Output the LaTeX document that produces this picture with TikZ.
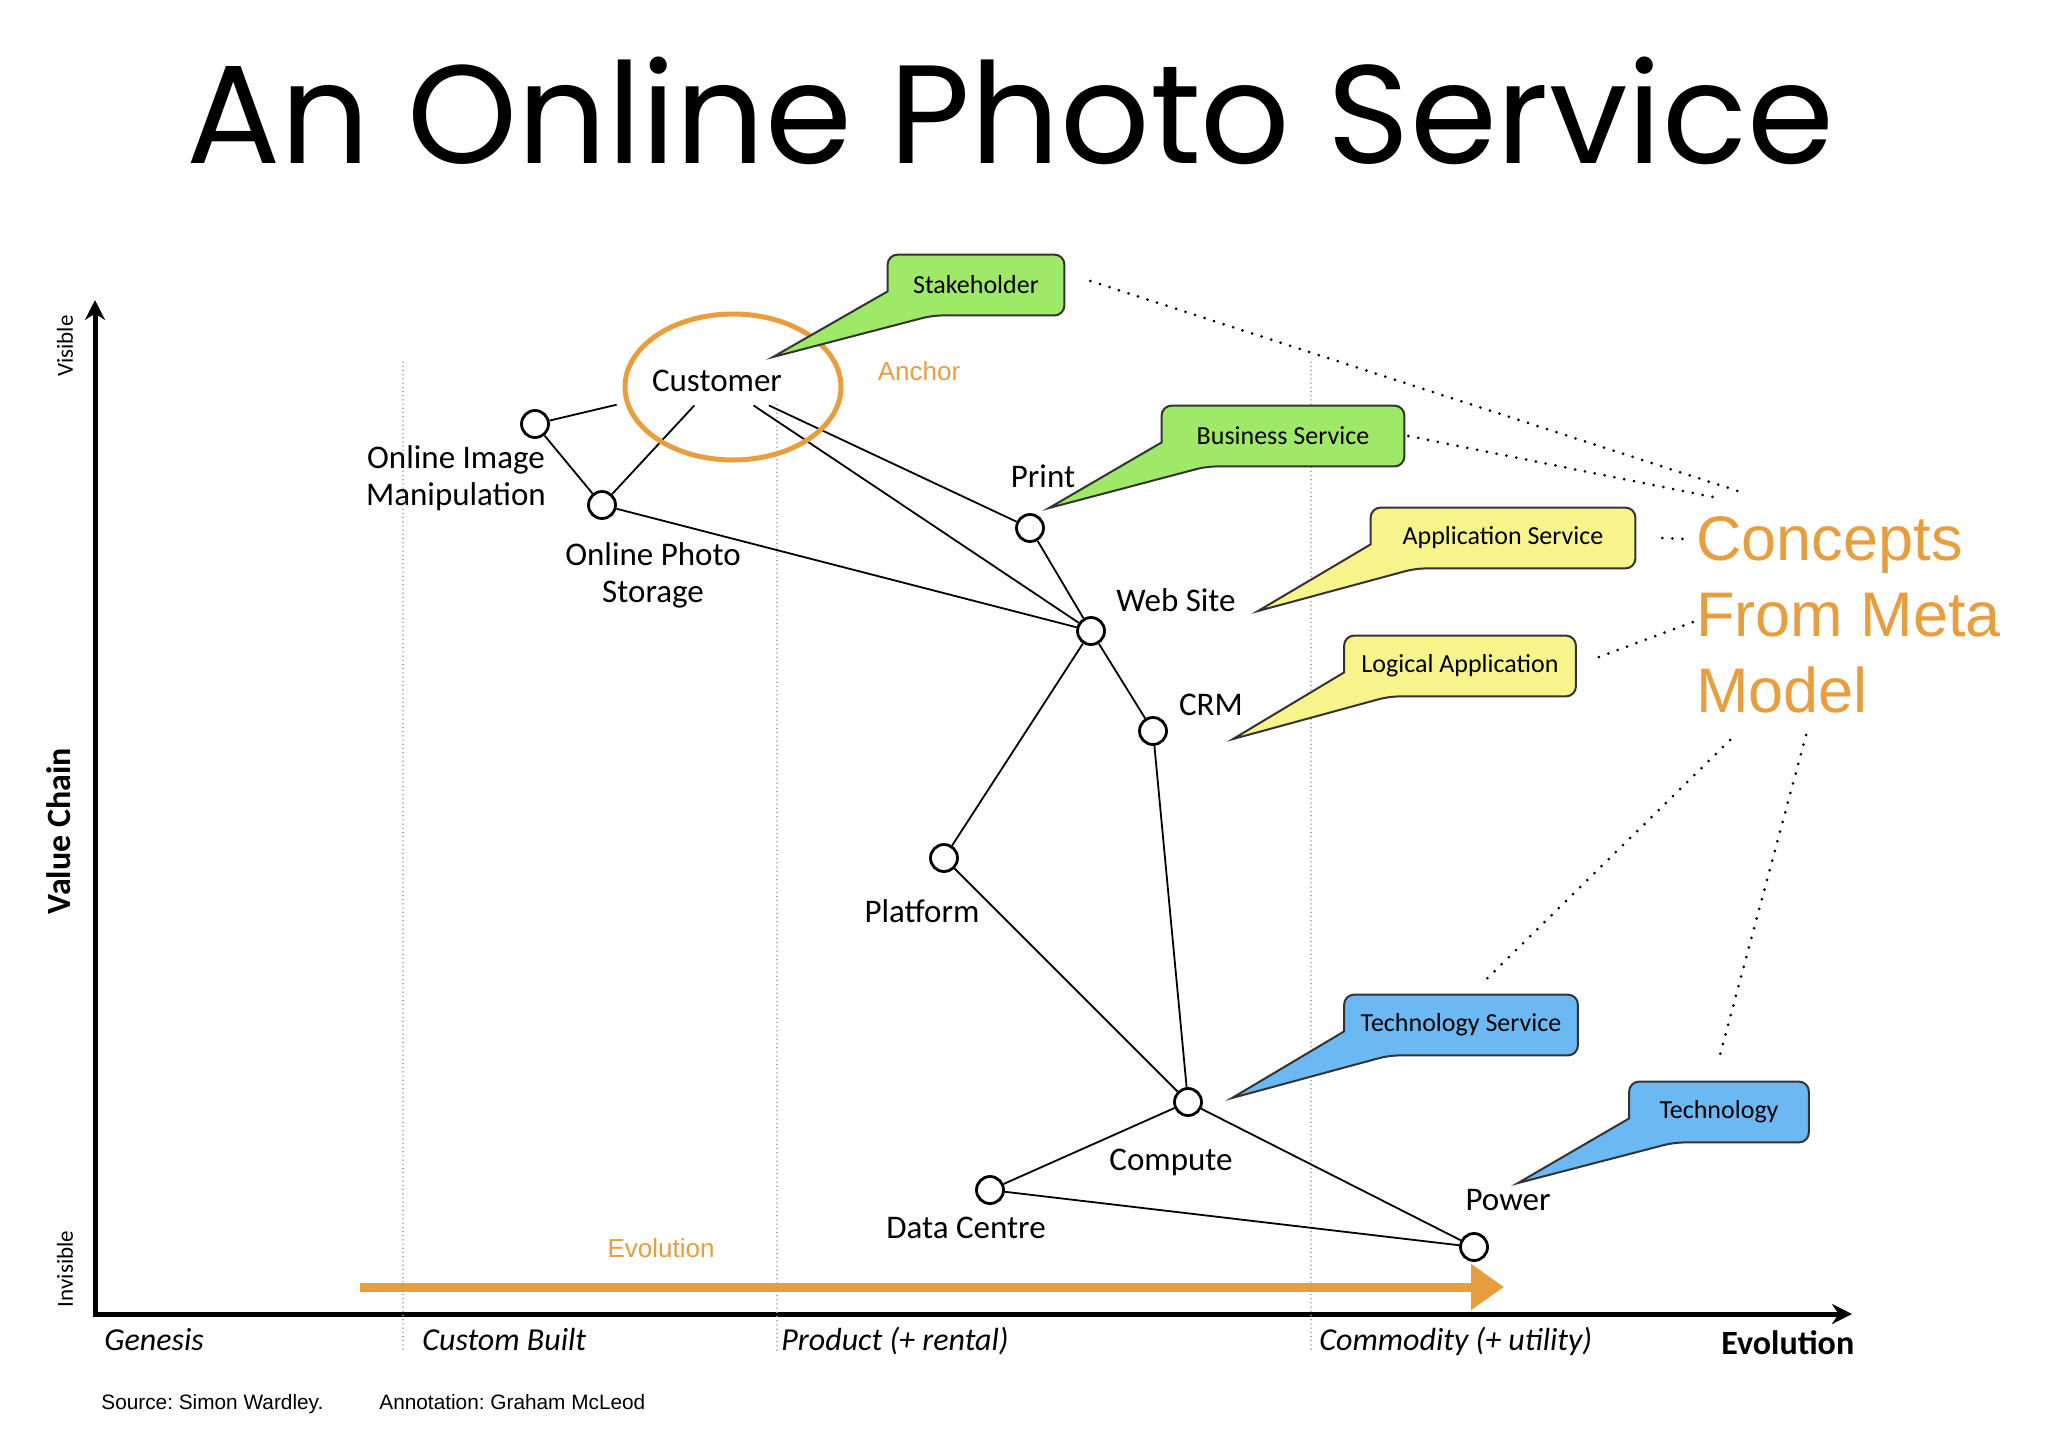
\documentclass[tikz,border=0pt]{standalone}
\usepackage{fontspec}
\setmainfont{Carlito}
\newfontfamily\titlefont{Poppins}
\newfontfamily\arialfont{Liberation Sans}
\usetikzlibrary{arrows.meta, positioning, calc}
\definecolor{mOrange}{HTML}{E89D3E}
\definecolor{mGreen}{HTML}{9EEA68}
\definecolor{mYellow}{HTML}{F8F48C}
\definecolor{mBlue}{HTML}{6BB8F2}
\definecolor{mGray}{HTML}{A0A0A0}
\frenchspacing

\begin{document}
\begin{tikzpicture}[x=0.5pt, y=-0.5pt,
    comp/.style={circle, draw, fill=white, line width=1.4pt, minimum size=13.5pt, inner sep=0pt},
    lbl/.style={font=\fontsize{16.5}{18.5}\selectfont, align=center, inner sep=0pt},
    link/.style={line width=0.9pt},
    phase/.style={font=\fontsize{16}{18}\selectfont\itshape, anchor=base west, inner sep=0pt},
    stage/.style={mGray, line width=0.6pt, dash pattern=on 0.1pt off 2pt, line cap=round},
    box/.style={minimum height=30pt, inner sep=0pt},
    boxline/.style={line width=1pt, draw=black!80},
    boxtext/.style={font=\fontsize{13}{15}\selectfont, inner sep=0pt},
    metadots/.style={line width=1.5pt, dash pattern=on 0pt off 5pt, line cap=round},
    arial/.style={font=\arialfont\fontsize{#1}{#1}\selectfont, inner sep=0pt}]
    \useasboundingbox (0,0) rectangle (2048,1430);

    \node[font=\titlefont\fontsize{70}{70}\selectfont, anchor=base, inner sep=0pt] (title) at (1010,163) {An Online Photo Service};

    % axes
    \coordinate (origin) at (95,1314);
    \coordinate (ytip) at (95,300);
    \coordinate (xtip) at (1852,1314);
    \draw[line width=2.5pt, {Stealth[length=10pt,width=10pt]}-{Stealth[length=10pt,width=10pt]}] (ytip) -- (origin) -- (xtip);

    \coordinate (evs) at (360,1287);
    \coordinate (eve) at (1504,1287);
    \draw[mOrange, line width=4.5pt, -{Triangle[length=16.5pt, width=22pt]}] (evs) -- (eve);
    \node[arial=13, text=mOrange] (evol) at (661,1248) {Evolution};

    \foreach \x/\top in {403/362, 777/405, 1311/362}
      \draw[stage] (\x,\top) -- (\x,1352);

    \node[rotate=90, font=\fontsize{11.5}{12}\selectfont, inner sep=0pt] (vis) at (65,346) {Visible};
    \node[rotate=90, font=\fontsize{17}{17}\selectfont\bfseries, inner sep=0pt] (vc) at (59,831) {Value Chain};
    \node[rotate=90, font=\fontsize{11.5}{12}\selectfont, inner sep=0pt] (invis) at (65,1269) {Invisible};

    \node[phase] (gen) at (104,1350) {Genesis};
    \node[phase] (custom) at (422,1350) {Custom Built};
    \node[phase] (prod) at (781,1350) {Product (+ rental)};
    \node[phase] (commod) at (1319,1350) {Commodity (+ utility)};
    \node[font=\fontsize{17}{17}\selectfont\bfseries, anchor=base west, inner sep=0pt] (evoaxis) at (1721,1354) {Evolution};

    \node[arial=10.4, anchor=base west] (src) at (101,1409) {Source: Simon Wardley.};
    \node[arial=10.4, anchor=base west] (annot) at (379,1409) {Annotation: Graham McLeod};

    % value chain
    \node[lbl, inner xsep=17.5pt, minimum height=24pt] (cust) at (717,381) {Customer};
    \node[comp] (img) at (535,424) {};
    \node[comp] (store) at (602,505) {};
    \node[comp] (print) at (1030,528) {};
    \node[comp] (web) at (1091,631) {};
    \node[comp] (crm) at (1153,731) {};
    \node[comp] (plat) at (944,858) {};
    \node[comp] (compute) at (1188,1102) {};
    \node[comp] (dc) at (990,1190) {};
    \node[comp] (power) at (1474,1247) {};

    \node[lbl] (imgl) at (456,478) {Online Image\\Manipulation};
    \node[lbl] (storel) at (653,575) {Online Photo\\Storage};
    \node[lbl] (printl) at (1043,476) {Print};
    \node[lbl] (webl) at (1176,600) {Web Site};
    \node[lbl] (crml) at (1211,705) {CRM};
    \node[lbl] (platl) at (922,911) {Platform};
    \node[lbl] (computel) at (1171,1162) {Compute};
    \node[lbl] (dcl) at (966,1228) {Data Centre};
    \node[lbl] (powerl) at (1508,1200) {Power};

    \draw[link] (cust) -- (img) (cust) -- (store) (cust) -- (web) (cust) -- (print)
      (img) -- (store) (store) -- (web) (print) -- (web) (web) -- (crm) (web) -- (plat)
      (plat) -- (compute) (crm) -- (compute) (compute) -- (dc) (compute) -- (power) (dc) -- (power);

    \draw[mOrange, line width=2.5pt] (733,387) ellipse [x radius=108, y radius=73];
    \node[arial=13, text=mOrange] (anch) at (919,371) {Anchor};

    % meta model callouts
    \foreach \nm/\cl/\px/\py/\bw/\tipx/\tipy/\txt in {
      stake/mGreen/976/285/88/773/357/Stakeholder,
      bizserv/mGreen/1283/436/121/1049/508/Business Service,
      appserv/mYellow/1503/538/132/1258/611/Application Service,
      logapp/mYellow/1460/666/115.5/1233/739/Logical Application,
      techserv/mBlue/1461/1025/116.5/1232/1098/Technology Service,
      tech/mBlue/1719/1112/89.5/1518/1183/Technology}{
      \node[box, minimum width=\bw pt] (\nm) at (\px,\py) {};
      \draw[boxline, fill=\cl] ($(\nm.south west)+(0,-24)$) [rounded corners=5pt] -- (\nm.north west)
        -- (\nm.north east) -- (\nm.south east) -- ($(\nm.south west)+(45,0)$) [sharp corners] -- (\tipx,\tipy) -- cycle;
      \node[boxtext] (\nm-l) at (\nm) {\txt};
    }

    \node[font=\arialfont\fontsize{31.5}{38}\selectfont, text=mOrange, align=left, anchor=north west, inner sep=0pt] (meta) at (1696,516) {Concepts\\From Meta\\Model};

    \coordinate (m1) at (1741,492);
    \coordinate (m2) at (1718,498);
    \coordinate (m3) at (1686,539);
    \coordinate (m4) at (1693,622);
    \coordinate (m5) at (1730,740);
    \coordinate (m6) at (1806,735);
    \draw[metadots] ([xshift=13pt, yshift=2pt]stake.east) -- (m1);
    \draw[metadots] ([xshift=2pt]bizserv.east) -- (m2);
    \draw[metadots] ([xshift=13.5pt]appserv.east) -- (m3);
    \draw[metadots] ([xshift=11.5pt, yshift=4.5pt]logapp.east) -- (m4);
    \draw[metadots] (m5) -- ([xshift=12.5pt, yshift=7.5pt]techserv.north);
    \draw[metadots] (m6) -- ([yshift=11.5pt]tech.north);
\end{tikzpicture}
\end{document}
